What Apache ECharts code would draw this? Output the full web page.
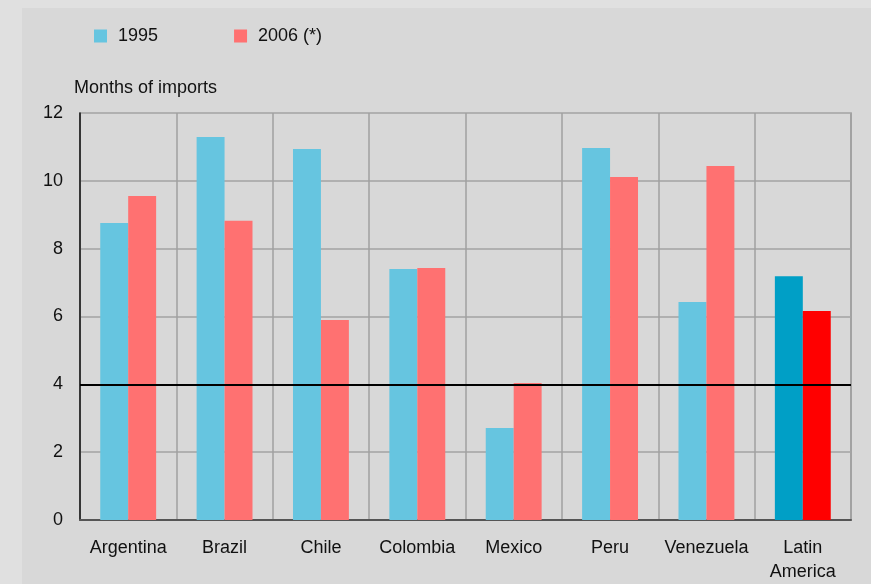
<!DOCTYPE html>
<html>
<head>
<meta charset="utf-8">
<script src="https://cdn.jsdelivr.net/npm/echarts@6/dist/echarts.min.js"></script>
<style>
  html, body { margin: 0; padding: 0; background: #e0e0e0; }
  #chart { width: 871px; height: 584px; }
</style>
</head>
<body>
<div id="chart"></div>
<script>
  // data
  const countries = ["Argentina", "Brazil", "Chile", "Colombia", "Mexico", "Peru", "Venezuela", "Latin\nAmerica"];
  const values1995 = [8.76, 11.29, 10.94, 7.40, 2.71, 10.97, 6.43, 7.19];
  const values2006 = [9.55, 8.82, 5.90, 7.43, 4.04, 10.11, 10.44, 6.16];
  const yTicks = [0, 2, 4, 6, 8, 10, 12];
  const threshold = 4;

  const c1995 = "#66c5e0";
  const c2006 = "#ff7171";
  // the regional total is drawn in stronger colours
  const c1995Total = "#009fc6";
  const c2006Total = "#ff0000";

  const font = "'Liberation Sans', Arial, sans-serif";

  function colored(vals, normal, total) {
    return vals.map((v, i) => ({
      value: v,
      itemStyle: { color: i === vals.length - 1 ? total : normal },
    }));
  }

  const chart = echarts.init(document.getElementById("chart"), null, { renderer: "canvas" });

  const option = {
    backgroundColor: "#e0e0e0",
    animation: false,
    graphic: [
      {
        type: "rect",
        z: -10,
        shape: { x: 22, y: 8, width: 849, height: 576 },
        style: { fill: "#d8d8d8" },
      },
    ],
    title: {
      text: "Months of imports",
      left: 69,
      top: 74,
      textStyle: { fontFamily: font, fontSize: 18, fontWeight: "normal", color: "#111" },
    },
    legend: {
      left: 89,
      top: 22,
      icon: "rect",
      itemWidth: 13,
      itemHeight: 13,
      itemGap: 76,
      textStyle: { fontFamily: font, fontSize: 18, color: "#111", padding: [0, 0, 0, 6] },
      data: ["1995", "2006 (*)"],
    },
    grid: {
      left: 80,
      right: 20,
      top: 113,
      bottom: 64,
      show: true,
      borderColor: "#999",
      borderWidth: 1.5,
      backgroundColor: "transparent",
    },
    xAxis: {
      type: "category",
      data: countries,
      axisTick: { show: false },
      axisLine: { lineStyle: { color: "#555", width: 2 } },
      axisLabel: {
        interval: 0,
        margin: 16,
        fontFamily: font,
        fontSize: 18,
        lineHeight: 24,
        color: "#111",
      },
      splitLine: { show: true, interval: 0, lineStyle: { color: "#a0a0a0", width: 1.5 } },
    },
    yAxis: {
      type: "value",
      min: yTicks[0],
      max: yTicks[yTicks.length - 1],
      interval: 2,
      axisLine: { show: true, lineStyle: { color: "#111", width: 1.5 } },
      axisTick: { show: false },
      axisLabel: { margin: 17, fontFamily: font, fontSize: 18, color: "#111" },
      splitLine: { lineStyle: { color: "#b0b0b0", width: 2 } },
    },
    series: [
      {
        name: "1995",
        type: "bar",
        barWidth: "29%",
        barGap: "0%",
        itemStyle: { color: c1995 },
        data: colored(values1995, c1995, c1995Total),
      },
      {
        name: "2006 (*)",
        type: "bar",
        barWidth: "29%",
        barGap: "0%",
        itemStyle: { color: c2006 },
        data: colored(values2006, c2006, c2006Total),
        markLine: {
          silent: true,
          symbol: "none",
          label: { show: false },
          lineStyle: { color: "#000", width: 2, type: "solid" },
          data: [{ yAxis: threshold }],
          z: 10,
        },
      },
    ],
  };

  chart.setOption(option);
</script>
</body>
</html>
